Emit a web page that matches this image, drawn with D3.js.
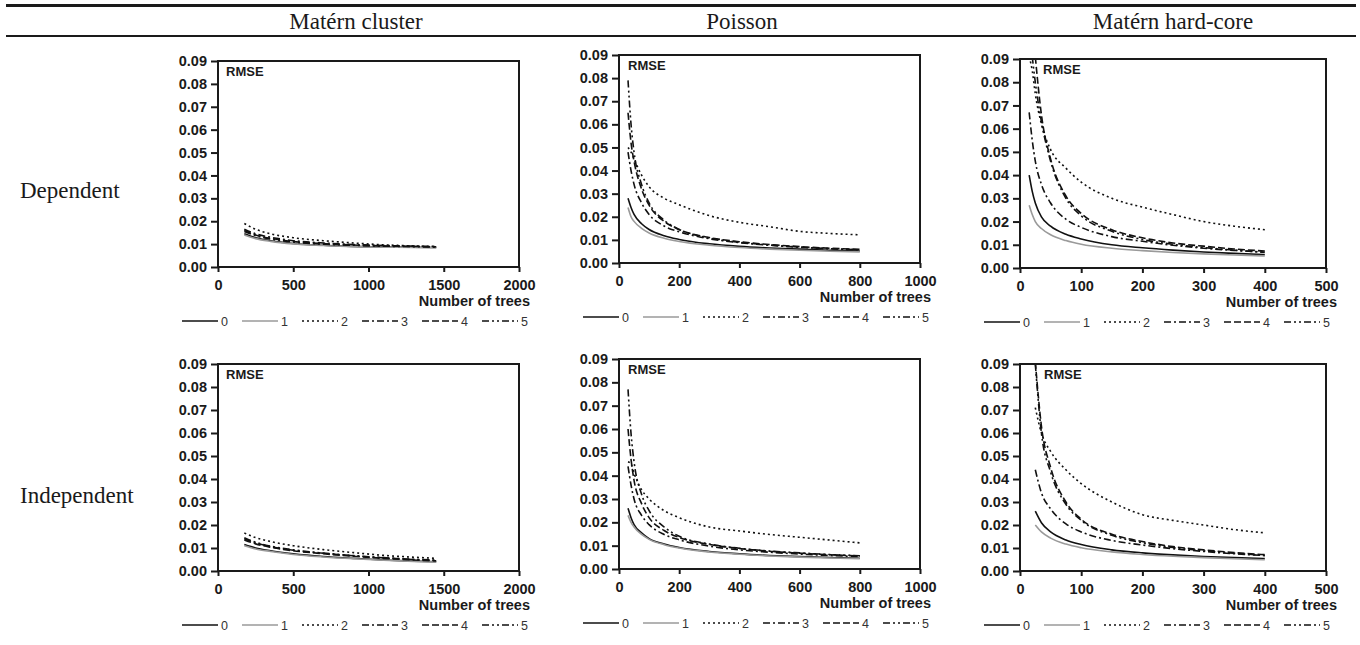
<!DOCTYPE html>
<html>
<head>
<meta charset="utf-8">
<script src="https://cdn.jsdelivr.net/npm/d3@7"></script>
<style>
  html, body { margin: 0; padding: 0; background: #fff; }
  svg { display: block; }
</style>
</head>
<body>
<svg id="chart" width="1360" height="645"></svg>
<script>
// ---------- data ----------
const columnTitles = ["Matérn cluster", "Poisson", "Matérn hard-core"];
const rowTitles = ["Dependent", "Independent"];
const seriesKeys = ["0", "1", "2", "3", "4", "5"];
const yTicks = [0, 0.01, 0.02, 0.03, 0.04, 0.05, 0.06, 0.07, 0.08, 0.09];
const clusterTicks = [0, 500, 1000, 1500, 2000];
const poissonTicks = [0, 200, 400, 600, 800, 1000];
const hardcoreTicks = [0, 100, 200, 300, 400, 500];
const yLabel = "RMSE";
const xLabel = "Number of trees";

// number of trees at which RMSE was evaluated
const clusterN = [175, 250, 350, 500, 700, 900, 1100, 1300, 1450];
const poissonN = [30, 40, 50, 75, 100, 150, 200, 300, 400, 500, 600, 700, 800];
const hardcoreN = [15, 20, 25, 35, 50, 75, 100, 150, 200, 250, 300, 350, 400];

// RMSE, one row per series 0..5
const clusterDependent = [
  [0.0145, 0.0128, 0.0115, 0.0103, 0.0095, 0.0090, 0.0088, 0.0086, 0.0085],
  [0.0140, 0.0124, 0.0112, 0.0101, 0.0094, 0.0089, 0.0087, 0.0085, 0.0084],
  [0.0190, 0.0165, 0.0145, 0.0128, 0.0115, 0.0105, 0.0097, 0.0092, 0.0090],
  [0.0165, 0.0145, 0.0130, 0.0115, 0.0105, 0.0098, 0.0094, 0.0091, 0.0089],
  [0.0160, 0.0140, 0.0125, 0.0111, 0.0102, 0.0096, 0.0092, 0.0090, 0.0088],
  [0.0155, 0.0137, 0.0122, 0.0109, 0.0100, 0.0095, 0.0091, 0.0089, 0.0087]
];
const clusterIndependent = [
  [0.0115, 0.0100, 0.0088, 0.0075, 0.0063, 0.0055, 0.0048, 0.0043, 0.0040],
  [0.0110, 0.0096, 0.0085, 0.0072, 0.0061, 0.0053, 0.0047, 0.0042, 0.0039],
  [0.0165, 0.0145, 0.0128, 0.0110, 0.0093, 0.0080, 0.0068, 0.0060, 0.0055],
  [0.0140, 0.0122, 0.0106, 0.0090, 0.0077, 0.0066, 0.0057, 0.0050, 0.0046],
  [0.0135, 0.0118, 0.0103, 0.0088, 0.0075, 0.0064, 0.0055, 0.0048, 0.0044],
  [0.0145, 0.0125, 0.0108, 0.0092, 0.0078, 0.0067, 0.0058, 0.0051, 0.0047]
];
const poissonDependent = [
  [0.028, 0.024, 0.021, 0.017, 0.0145, 0.0118, 0.0102, 0.0083, 0.0072, 0.0065, 0.0060, 0.0055, 0.0052],
  [0.024, 0.020, 0.018, 0.015, 0.0130, 0.0107, 0.0093, 0.0077, 0.0067, 0.0060, 0.0055, 0.0051, 0.0048],
  [0.050, 0.048, 0.045, 0.038, 0.0330, 0.0280, 0.0252, 0.0205, 0.0176, 0.0157, 0.0137, 0.0128, 0.0122],
  [0.048, 0.040, 0.034, 0.026, 0.0210, 0.0160, 0.0135, 0.0105, 0.0088, 0.0077, 0.0068, 0.0062, 0.0057],
  [0.065, 0.052, 0.044, 0.032, 0.0250, 0.0180, 0.0145, 0.0110, 0.0092, 0.0080, 0.0071, 0.0064, 0.0059],
  [0.079, 0.060, 0.048, 0.034, 0.0260, 0.0185, 0.0145, 0.0108, 0.0090, 0.0078, 0.0069, 0.0062, 0.0057]
];
const poissonIndependent = [
  [0.026, 0.022, 0.019, 0.0155, 0.0130, 0.0107, 0.0092, 0.0075, 0.0065, 0.0058, 0.0053, 0.0049, 0.0046],
  [0.023, 0.020, 0.018, 0.0148, 0.0127, 0.0104, 0.0090, 0.0073, 0.0063, 0.0056, 0.0051, 0.0047, 0.0044],
  [0.046, 0.045, 0.041, 0.0340, 0.0300, 0.0250, 0.0220, 0.0180, 0.0163, 0.0148, 0.0136, 0.0124, 0.0112],
  [0.044, 0.036, 0.030, 0.0230, 0.0190, 0.0148, 0.0125, 0.0098, 0.0082, 0.0072, 0.0064, 0.0058, 0.0053],
  [0.060, 0.047, 0.038, 0.0280, 0.0220, 0.0165, 0.0135, 0.0105, 0.0088, 0.0076, 0.0068, 0.0061, 0.0056],
  [0.077, 0.058, 0.046, 0.0320, 0.0250, 0.0180, 0.0140, 0.0107, 0.0089, 0.0077, 0.0069, 0.0062, 0.0057]
];
const hardcoreDependent = [
  [0.040, 0.033, 0.028, 0.022, 0.018, 0.0145, 0.0125, 0.0100, 0.0087, 0.0077, 0.0069, 0.0063, 0.0058],
  [0.027, 0.023, 0.020, 0.017, 0.0143, 0.0118, 0.0102, 0.0085, 0.0075, 0.0067, 0.0061, 0.0056, 0.0052],
  [0.091, 0.085, 0.075, 0.062, 0.051, 0.043, 0.037, 0.030, 0.0262, 0.023, 0.020, 0.018, 0.0165],
  [0.067, 0.055, 0.046, 0.036, 0.028, 0.021, 0.0175, 0.0135, 0.0115, 0.0098, 0.0085, 0.0076, 0.0068],
  [null, null, 0.091, 0.066, 0.047, 0.031, 0.0235, 0.0165, 0.0130, 0.0108, 0.0094, 0.0082, 0.0073],
  [null, 0.091, 0.080, 0.063, 0.046, 0.030, 0.0225, 0.0158, 0.0123, 0.0102, 0.0088, 0.0077, 0.0068]
];
const hardcoreIndependent = [
  [null, null, 0.026, 0.021, 0.017, 0.0135, 0.0115, 0.0092, 0.0079, 0.0070, 0.0063, 0.0058, 0.0054],
  [null, null, 0.020, 0.017, 0.0143, 0.0117, 0.0101, 0.0083, 0.0072, 0.0064, 0.0058, 0.0053, 0.0049],
  [null, null, 0.071, 0.060, 0.052, 0.044, 0.038, 0.030, 0.0245, 0.022, 0.020, 0.018, 0.0166],
  [null, null, 0.044, 0.034, 0.027, 0.0205, 0.017, 0.0133, 0.0113, 0.0097, 0.0085, 0.0075, 0.0067],
  [null, null, 0.091, 0.063, 0.045, 0.030, 0.0225, 0.016, 0.0128, 0.0106, 0.0092, 0.0080, 0.0071],
  [null, null, 0.090, 0.060, 0.043, 0.029, 0.022, 0.0155, 0.0123, 0.0102, 0.0088, 0.0077, 0.0068]
];

// ---------- layout ----------
const W = 1360, H = 645;
const svg = d3.select("#chart").attr("viewBox", `0 0 ${W} ${H}`);
svg.append("rect").attr("width", W).attr("height", H).attr("fill", "#fff");

const serif = "'Liberation Serif', 'Times New Roman', serif";
const sans = "'Liberation Sans', Arial, Helvetica, sans-serif";
const ink = "#1a1a1a";

// line style per series
const seriesStyle = [
  { stroke: "#111", dash: null },
  { stroke: "#9a9a9a", dash: null },
  { stroke: "#111", dash: "2,3" },
  { stroke: "#111", dash: "7,3,2,3" },
  { stroke: "#111", dash: "7,3" },
  { stroke: "#111", dash: "7,3,2,3,2,3" }
];

// table rules
svg.append("line").attr("x1", 6).attr("x2", 1356).attr("y1", 5.5).attr("y2", 5.5)
  .attr("stroke", ink).attr("stroke-width", 3);
svg.append("line").attr("x1", 6).attr("x2", 1356).attr("y1", 36).attr("y2", 36)
  .attr("stroke", ink).attr("stroke-width", 2);

const headerX = [356, 742, 1173];
columnTitles.forEach((t, i) => {
  svg.append("text").attr("x", headerX[i]).attr("y", 29)
    .attr("text-anchor", "middle").attr("font-family", serif).attr("font-size", 23)
    .attr("fill", ink).text(t);
});

const rowY = [198, 503];
rowTitles.forEach((t, i) => {
  svg.append("text").attr("x", 20).attr("y", rowY[i])
    .attr("font-family", serif).attr("font-size", 23).attr("fill", ink).text(t);
});

const panels = [
  { n: clusterN, data: clusterDependent, ticks: clusterTicks, left: 218, right: 519, top: 61, bottom: 267, rmse: 8 },
  { n: poissonN, data: poissonDependent, ticks: poissonTicks, left: 619, right: 920, top: 55, bottom: 263, rmse: 9 },
  { n: hardcoreN, data: hardcoreDependent, ticks: hardcoreTicks, left: 1020, right: 1326, top: 59, bottom: 268, rmse: 23 },
  { n: clusterN, data: clusterIndependent, ticks: clusterTicks, left: 218, right: 519, top: 364, bottom: 571, rmse: 8 },
  { n: poissonN, data: poissonIndependent, ticks: poissonTicks, left: 619, right: 920, top: 359, bottom: 569, rmse: 9 },
  { n: hardcoreN, data: hardcoreIndependent, ticks: hardcoreTicks, left: 1020, right: 1326, top: 364, bottom: 571, rmse: 24 }
];

panels.forEach((p, pi) => {
  const g = svg.append("g");
  const x = d3.scaleLinear().domain(d3.extent(p.ticks)).range([p.left, p.right]);
  const y = d3.scaleLinear().domain(d3.extent(yTicks)).range([p.bottom, p.top]);

  const clipId = "clip" + pi;
  g.append("clipPath").attr("id", clipId).append("rect")
    .attr("x", p.left).attr("y", p.top).attr("width", p.right - p.left).attr("height", p.bottom - p.top);

  // curves
  const line = d3.line()
    .defined(d => d[1] != null)
    .x(d => x(d[0])).y(d => y(d[1]))
    .curve(d3.curveMonotoneX);
  const lines = g.append("g").attr("clip-path", `url(#${clipId})`);
  p.data.forEach((vals, si) => {
    const st = seriesStyle[si];
    lines.append("path")
      .datum(p.n.map((v, k) => [v, vals[k]]))
      .attr("d", line)
      .attr("fill", "none")
      .attr("stroke", st.stroke)
      .attr("stroke-width", 1.6)
      .attr("stroke-dasharray", st.dash);
  });

  // y axis
  const ya = g.append("g").attr("transform", `translate(${p.left},0)`)
    .call(d3.axisLeft(y).tickValues(yTicks).tickFormat(d3.format(".2f")).tickSize(7).tickPadding(4));
  // x axis
  const xa = g.append("g").attr("transform", `translate(0,${p.bottom})`)
    .call(d3.axisBottom(x).tickValues(p.ticks).tickFormat(d3.format("d")).tickSize(5).tickPadding(8));
  [ya, xa].forEach(a => {
    a.select(".domain").remove();
    a.selectAll(".tick line").attr("stroke", ink).attr("stroke-width", 2);
    a.selectAll(".tick text").attr("fill", ink).attr("font-family", sans)
      .attr("font-size", 14.5).attr("font-weight", "bold");
  });

  // frame
  g.append("rect").attr("x", p.left).attr("y", p.top)
    .attr("width", p.right - p.left).attr("height", p.bottom - p.top)
    .attr("fill", "none").attr("stroke", ink).attr("stroke-width", 2);

  g.append("text").attr("x", p.left + p.rmse).attr("y", p.top + 15)
    .attr("font-family", sans).attr("font-weight", "bold").attr("font-size", 13)
    .attr("fill", ink).text(yLabel);

  g.append("text").attr("x", p.right + 11).attr("y", p.bottom + 39)
    .attr("text-anchor", "end").attr("font-family", sans).attr("font-weight", "bold")
    .attr("font-size", 14.5).attr("fill", ink).text(xLabel);

  // legend
  const lg = g.append("g").attr("transform", `translate(${p.left - 36},${p.bottom + 54})`);
  seriesKeys.forEach((k, si) => {
    const st = seriesStyle[si];
    const item = lg.append("g").attr("transform", `translate(${si * 60},0)`);
    item.append("line").attr("x1", 0).attr("x2", 36).attr("y1", 0).attr("y2", 0)
      .attr("stroke", st.stroke).attr("stroke-width", 1.6).attr("stroke-dasharray", st.dash);
    item.append("text").attr("x", 39).attr("y", 4.5)
      .attr("font-family", sans).attr("font-size", 12.5).attr("fill", "#333").text(k);
  });
});
</script>
</body>
</html>
